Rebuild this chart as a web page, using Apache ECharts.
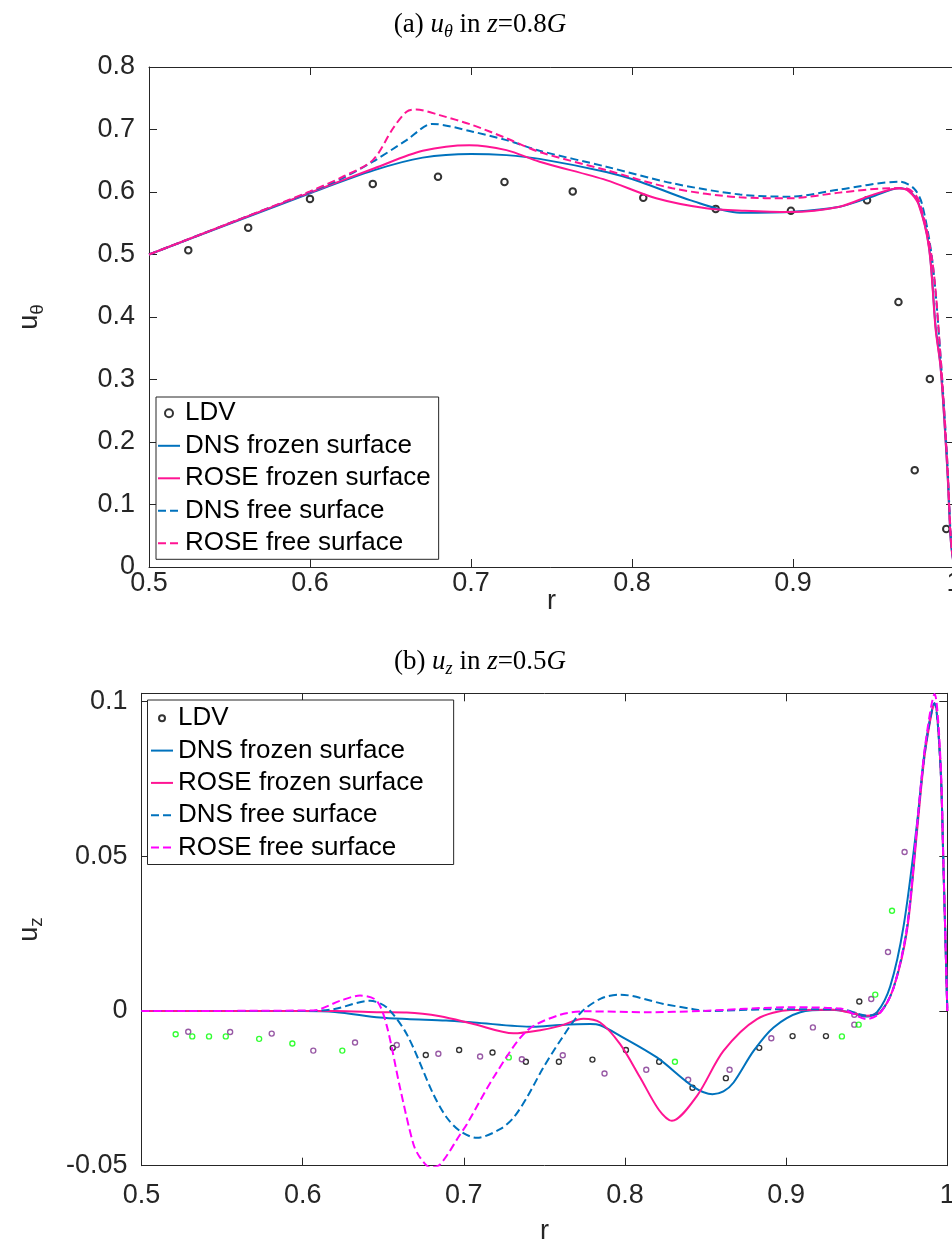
<!DOCTYPE html>
<html><head><meta charset="utf-8">
<script src="https://cdn.jsdelivr.net/npm/echarts@6/dist/echarts.min.js"></script>
<style>html,body{margin:0;padding:0;background:#fff}#c{width:952px;height:1243px}</style>
</head><body><div id="c"></div>
<script>
// ---------- (a) u_theta in z=0.8G ----------
const a_ldv_r = [0.5244, 0.5616, 0.6000, 0.6390, 0.6795, 0.7208, 0.7632, 0.8070, 0.8520, 0.8987, 0.9460, 0.9655, 0.9850, 0.9756, 0.9952];
const a_ldv_u = [0.507, 0.543, 0.589, 0.613, 0.6245, 0.616, 0.601, 0.591, 0.573, 0.570, 0.587, 0.424, 0.301, 0.155, 0.061];

const a_dnsFrozen_r = [0.5, 0.55, 0.6, 0.64, 0.67, 0.7, 0.722, 0.7426, 0.784, 0.805, 0.836, 0.867, 0.9, 0.929, 0.949, 0.966, 0.972, 0.978, 0.9845, 0.9886, 0.9917, 0.9958, 0.998, 1.0];
const a_dnsFrozen_u = [0.5, 0.549, 0.598, 0.635, 0.655, 0.661, 0.659, 0.653, 0.632, 0.6165, 0.587, 0.567, 0.5685, 0.5765, 0.5925, 0.606, 0.602, 0.582, 0.512, 0.384, 0.320, 0.160, 0.043, 0.0];

const a_roseFrozen_r = [0.5, 0.55, 0.6, 0.64, 0.67, 0.699, 0.722, 0.7426, 0.784, 0.815, 0.846, 0.87, 0.898, 0.929, 0.949, 0.966, 0.972, 0.978, 0.9845, 0.9886, 0.9917, 0.9958, 0.998, 1.0];
const a_roseFrozen_u = [0.5, 0.55, 0.599, 0.638, 0.666, 0.675, 0.667, 0.6485, 0.619, 0.590, 0.574, 0.570, 0.568, 0.5765, 0.595, 0.606, 0.601, 0.580, 0.510, 0.380, 0.318, 0.158, 0.042, 0.0];

const a_dnsFree_r = [0.5, 0.55, 0.6, 0.62, 0.639, 0.66, 0.676, 0.701, 0.722, 0.7426, 0.784, 0.825, 0.867, 0.898, 0.929, 0.966, 0.975, 0.980, 0.9865, 0.9917, 0.9958, 0.998, 1.0];
const a_dnsFree_u = [0.5, 0.55, 0.6, 0.622, 0.6485, 0.683, 0.709, 0.6965, 0.683, 0.666, 0.6405, 0.614, 0.596, 0.5925, 0.604, 0.6165, 0.606, 0.582, 0.491, 0.335, 0.170, 0.050, 0.0];

const a_roseFree_r = [0.5, 0.55, 0.6, 0.62, 0.639, 0.6516, 0.66, 0.666, 0.6805, 0.701, 0.722, 0.7426, 0.784, 0.825, 0.867, 0.898, 0.929, 0.9596, 0.970, 0.978, 0.9865, 0.9917, 0.9958, 0.998, 1.0];
const a_roseFree_u = [0.5, 0.55, 0.601, 0.624, 0.651, 0.702, 0.7285, 0.732, 0.723, 0.707, 0.686, 0.664, 0.635, 0.606, 0.5915, 0.590, 0.599, 0.606, 0.606, 0.587, 0.490, 0.335, 0.170, 0.050, 0.0];

// ---------- (b) u_z in z=0.5G ----------
const b_ldvBlack_r = [0.6559, 0.6764, 0.6971, 0.7178, 0.7385, 0.7590, 0.7798, 0.8006, 0.8212, 0.8419, 0.8626, 0.8833, 0.9040, 0.9247, 0.9454];
const b_ldvBlack_u = [-0.0119, -0.0142, -0.0126, -0.0134, -0.0164, -0.0164, -0.0157, -0.0126, -0.0164, -0.0248, -0.0217, -0.0119, -0.0081, -0.0081, 0.0031];

const b_ldvPurple_r = [0.529, 0.555, 0.5808, 0.6066, 0.6325, 0.6584, 0.6842, 0.7101, 0.736, 0.7614, 0.7873, 0.8132, 0.8392, 0.8649, 0.8908, 0.9166, 0.9423, 0.9423, 0.9528, 0.9632, 0.9735];
const b_ldvPurple_u = [-0.0067, -0.0068, -0.0073, -0.0128, -0.0102, -0.0110, -0.0138, -0.0147, -0.0156, -0.0143, -0.0202, -0.0190, -0.0222, -0.0190, -0.0088, -0.0053, -0.0012, -0.0044, 0.0039, 0.0191, 0.0514];

const b_ldvGreen_r = [0.5212, 0.5315, 0.5419, 0.5523, 0.573, 0.5936, 0.6246, 0.7279, 0.831, 0.9346, 0.945, 0.9553, 0.9657];
const b_ldvGreen_u = [-0.0075, -0.0082, -0.0082, -0.0082, -0.0090, -0.0105, -0.0128, -0.0150, -0.0164, -0.0082, -0.0044, 0.0053, 0.0324];

const b_dnsFrozen_r = [0.5, 0.6, 0.62, 0.648, 0.6646, 0.689, 0.706, 0.7432, 0.7598, 0.7784, 0.7846, 0.797, 0.8198, 0.8425, 0.8543, 0.8611, 0.8674, 0.8798, 0.8922, 0.9088, 0.9274, 0.9398, 0.9491, 0.9564, 0.9646, 0.9729, 0.9812, 0.9863, 0.9920, 0.9957, 0.9977, 0.999, 1.0];
const b_dnsFrozen_u = [0, 0, -0.0003, -0.0021, -0.0026, -0.0031, -0.0037, -0.0051, -0.0045, -0.0042, -0.0046, -0.0080, -0.0150, -0.0245, -0.0269, -0.0260, -0.0231, -0.0129, -0.0053, -0.0004, 0.0004, -0.0004, -0.0018, -0.0004, 0.0080, 0.0275, 0.0606, 0.0854, 0.0995, 0.0800, 0.0450, 0.0200, 0.0];

const b_roseFrozen_r = [0.5, 0.62, 0.648, 0.6646, 0.6853, 0.706, 0.7308, 0.7474, 0.7598, 0.7742, 0.7846, 0.797, 0.8094, 0.8211, 0.8291, 0.8446, 0.8611, 0.8819, 0.9026, 0.9294, 0.9501, 0.9584, 0.9667, 0.975, 0.9812, 0.9863, 0.9922, 0.9957, 0.9977, 0.999, 1.0];
const b_roseFrozen_u = [0, 0, -0.0004, -0.0005, -0.0017, -0.0042, -0.0072, -0.0062, -0.0048, -0.0025, -0.0037, -0.0107, -0.0215, -0.0320, -0.0355, -0.0275, -0.0129, -0.0026, 0.0003, 0.0004, -0.0015, -0.0004, 0.0076, 0.026, 0.058, 0.084, 0.0995, 0.080, 0.045, 0.020, 0.0];

const b_dnsFree_r = [0.5, 0.6, 0.619, 0.6418, 0.652, 0.6646, 0.6811, 0.6895, 0.6977, 0.7081, 0.7225, 0.7308, 0.7391, 0.749, 0.7598, 0.7722, 0.785, 0.797, 0.8239, 0.8425, 0.8508, 0.8922, 0.9336, 0.9501, 0.9584, 0.9667, 0.975, 0.9812, 0.9863, 0.992, 0.9957, 0.9977, 0.999, 1.0];
const b_dnsFree_u = [0, 0, 0.0006, 0.0033, 0.0012, -0.0075, -0.0269, -0.0345, -0.0388, -0.0410, -0.0382, -0.0345, -0.0280, -0.0186, -0.0096, -0.0007, 0.0040, 0.0053, 0.0023, 0.0006, 0.0, 0.0006, 0.0006, -0.0015, -0.0004, 0.0076, 0.0270, 0.0595, 0.0845, 0.0995, 0.0800, 0.0450, 0.0200, 0.0];

const b_roseFree_r = [0.5, 0.6066, 0.6232, 0.6356, 0.646, 0.6522, 0.6605, 0.6687, 0.6729, 0.6791, 0.6853, 0.6977, 0.7019, 0.719, 0.7391, 0.7598, 0.7764, 0.8136, 0.8466, 0.9026, 0.9336, 0.9501, 0.9584, 0.9667, 0.975, 0.9812, 0.9863, 0.9921, 0.9957, 0.9977, 0.999, 1.0];
const b_roseFree_u = [0, 0.0002, 0.0033, 0.0050, 0.0033, -0.0048, -0.0250, -0.0430, -0.0474, -0.0505, -0.0496, -0.0399, -0.0366, -0.0210, -0.0064, -0.0012, -0.0001, -0.0004, 0.0, 0.0012, 0.0008, -0.0026, -0.0006, 0.0075, 0.0270, 0.0600, 0.0860, 0.1025, 0.0820, 0.0460, 0.0200, 0.0];

const a_yTicks = [0, 0.1, 0.2, 0.3, 0.4, 0.5, 0.6, 0.7, 0.8];
const b_yTicks = [-0.05, 0, 0.05, 0.1];
const xTicks = [0.5, 0.6, 0.7, 0.8, 0.9, 1];

const names = ['LDV', 'DNS frozen surface', 'ROSE frozen surface', 'DNS free surface', 'ROSE free surface'];

// ---------- helpers ----------
const zip = (xs, ys) => xs.map((x, i) => [x, ys[i]]);
const AX = '#262626';
const SANS = 'Liberation Sans';
const BLUE = '#0072BD', PINK = '#FF1493', MAG = '#FF00FF';

function fmtNum(v) { return String(+v.toFixed(3)); }

function xAxisDef(grid, pos, withLabels, nameGap, labelMargin) {
  return {
    type: 'value', gridIndex: grid, position: pos, min: 0.5, max: 1, interval: 0.1,
    axisLine: { show: true, onZero: false, lineStyle: { color: AX, width: 1 } },
    axisTick: { show: true, inside: true, length: 8, lineStyle: { color: AX, width: 1 } },
    axisLabel: { show: withLabels, fontFamily: SANS, fontSize: 27, color: AX, margin: labelMargin,
      formatter: v => xTicks.some(t => Math.abs(t - v) < 1e-9) ? fmtNum(v) : '' },
    splitLine: { show: false },
    name: withLabels ? 'r' : '', nameLocation: 'middle', nameGap: nameGap, nameMoveOverlap: false,
    nameTextStyle: { fontFamily: SANS, fontSize: 27, color: AX }
  };
}
function yAxisDef(grid, pos, withLabels, min, max, interval, ticks, nameRich, nameGap) {
  return {
    type: 'value', gridIndex: grid, position: pos, min: min, max: max, interval: interval,
    axisLine: { show: true, onZero: false, lineStyle: { color: AX, width: 1 } },
    axisTick: { show: true, inside: true, length: 8, lineStyle: { color: AX, width: 1 } },
    axisLabel: { show: withLabels, fontFamily: SANS, fontSize: 27, color: AX, margin: 14,
      formatter: v => ticks.some(t => Math.abs(t - v) < 1e-9) ? fmtNum(v) : '' },
    splitLine: { show: false },
    name: withLabels ? nameRich : '', nameLocation: 'middle', nameGap: nameGap, nameMoveOverlap: false,
    nameTextStyle: { fontFamily: SANS, fontSize: 27, color: AX,
      rich: {
        u: { fontFamily: SANS, fontSize: 27, color: AX, lineHeight: 34, verticalAlign: 'middle' },
        s: { fontFamily: SANS, fontSize: 19, color: AX, lineHeight: 18, verticalAlign: 'bottom' }
      } }
  };
}

function lineSeries(name, data, color, dashed, xi, yi) {
  return {
    type: 'line', name: name, data: data, xAxisIndex: xi, yAxisIndex: yi,
    symbol: 'none', showSymbol: false, smooth: 0.3,
    lineStyle: { color: color, width: 2, type: dashed ? [8, 4] : 'solid' },
    itemStyle: { color: color }, z: 3
  };
}
function ldvSeries(name, data, color, size, bw, xi, yi) {
  return {
    type: 'scatter', name: name, data: data, xAxisIndex: xi, yAxisIndex: yi,
    symbol: 'circle', symbolSize: size,
    itemStyle: { color: 'rgba(255,255,255,0)', borderColor: color, borderWidth: bw }, z: 2
  };
}

const titleRich = {
  i: { fontFamily: 'Liberation Serif', fontStyle: 'italic', fontWeight: 'normal', fontSize: 27, color: '#000', lineHeight: 32, verticalAlign: 'middle' },
  s: { fontFamily: 'Liberation Serif', fontStyle: 'italic', fontWeight: 'normal', fontSize: 18, color: '#000', lineHeight: 20, verticalAlign: 'bottom' },
  r: { fontFamily: 'Liberation Serif', fontWeight: 'normal', fontSize: 27, color: '#000', lineHeight: 32, verticalAlign: 'middle' }
};

const hideDot = { opacity: 0, color: 'rgba(0,0,0,0)', borderWidth: 0 };
function legendData(prefix) {
  return names.map((n, i) => i === 0 ? { name: prefix + n } : { name: prefix + n, itemStyle: hideDot });
}

const legendBase = {
  orient: 'vertical', itemWidth: 22, itemGap: 2.5, itemTextGap: 3,
  borderColor: AX, borderWidth: 1, backgroundColor: '#fff',
  textStyle: { fontFamily: SANS, fontSize: 26, color: '#000', lineHeight: 30 },
  selectedMode: false, formatter: n => n.replace(/^b:/, '')
};

const option = {
  animation: false,
  backgroundColor: '#fff',
  title: [
    { text: '{r|(a) }{i|u}{s|θ}{r| in }{i|z}{r|=0.8}{i|G}', left: 475, top: 4, textAlign: 'center',
      textStyle: { fontWeight: 'normal', rich: titleRich } },
    { text: '{r|(b) }{i|u}{s|z}{r| in }{i|z}{r|=0.5}{i|G}', left: 475, top: 641, textAlign: 'center',
      textStyle: { fontWeight: 'normal', rich: titleRich } }
  ],
  grid: [
    { left: 149, right: -2, top: 67, height: 500, outerBoundsMode: 'none', containLabel: false },
    { left: 141.5, right: 4.7, top: 693.3, height: 472.4, outerBoundsMode: 'none', containLabel: false }
  ],
  xAxis: [
    xAxisDef(0, 'bottom', true, 21, 3),
    xAxisDef(0, 'top', false, 0, 0),
    xAxisDef(1, 'bottom', true, 52, 16),
    xAxisDef(1, 'top', false, 0, 0)
  ],
  yAxis: [
    yAxisDef(0, 'left', true, 0, 0.8, 0.1, a_yTicks, '{u|u}{s|θ}', 102),
    yAxisDef(0, 'right', false, 0, 0.8, 0.1, a_yTicks, '', 0),
    yAxisDef(1, 'left', true, -0.05, 0.1027, 0.05, b_yTicks, '{u|u}{s|z}', 95),
    yAxisDef(1, 'right', false, -0.05, 0.1027, 0.05, b_yTicks, '', 0)
  ],
  legend: [
    Object.assign({}, legendBase, { left: 156, top: 397, padding: [1.3, 8, 1, 1], itemHeight: 8,
      data: legendData('') }),
    Object.assign({}, legendBase, { left: 147.5, top: 700, padding: [3.3, 30, 2, 2.5], itemHeight: 6, itemGap: 2.3,
      data: legendData('b:') })
  ],
  series: [
    ldvSeries('LDV', zip(a_ldv_r, a_ldv_u), '#000', 6.5, 2, 0, 0),
    lineSeries('DNS frozen surface', zip(a_dnsFrozen_r, a_dnsFrozen_u), BLUE, false, 0, 0),
    lineSeries('ROSE frozen surface', zip(a_roseFrozen_r, a_roseFrozen_u), PINK, false, 0, 0),
    lineSeries('DNS free surface', zip(a_dnsFree_r, a_dnsFree_u), BLUE, true, 0, 0),
    lineSeries('ROSE free surface', zip(a_roseFree_r, a_roseFree_u), PINK, true, 0, 0),

    ldvSeries('b:LDV', zip(b_ldvBlack_r, b_ldvBlack_u), '#000', 5, 1.4, 2, 2),
    ldvSeries('b:LDV purple', zip(b_ldvPurple_r, b_ldvPurple_u), '#7E2F8E', 5, 1.4, 2, 2),
    ldvSeries('b:LDV green', zip(b_ldvGreen_r, b_ldvGreen_u), '#00FF00', 5, 1.4, 2, 2),
    lineSeries('b:DNS frozen surface', zip(b_dnsFrozen_r, b_dnsFrozen_u), BLUE, false, 2, 2),
    lineSeries('b:ROSE frozen surface', zip(b_roseFrozen_r, b_roseFrozen_u), PINK, false, 2, 2),
    lineSeries('b:DNS free surface', zip(b_dnsFree_r, b_dnsFree_u), BLUE, true, 2, 2),
    lineSeries('b:ROSE free surface', zip(b_roseFree_r, b_roseFree_u), MAG, true, 2, 2)
  ]
};

const chart = echarts.init(document.getElementById('c'), null, { renderer: 'canvas' });
chart.setOption(option);
</script>
</body></html>
